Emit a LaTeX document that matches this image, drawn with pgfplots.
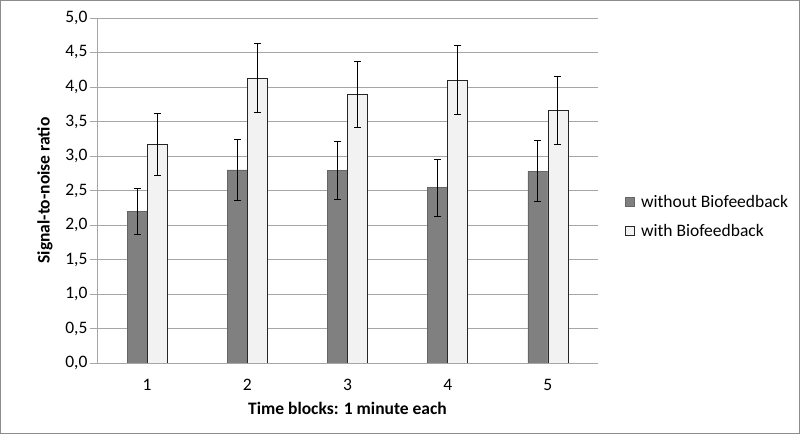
\documentclass[border=0pt]{standalone}
\usepackage{pgfplots}
\pgfplotsset{compat=1.18}
\usepackage{fontspec}
\setmainfont{Carlito}
\definecolor{darkbar}{HTML}{808080}
\definecolor{lightbar}{HTML}{F2F2F2}
\definecolor{gridc}{HTML}{A6A6A6}
\definecolor{framec}{HTML}{8C8C8C}
\begin{document}
\begin{tikzpicture}
\useasboundingbox (0,0) rectangle (800bp,434bp);
\draw[framec, line width=1.2bp] (0.6bp,0.6bp) rectangle (799.4bp,433.4bp);
\begin{axis}[
  at={(97bp,71bp)}, anchor=south west,
  scale only axis, width=501bp, height=345bp,
  xmin=0.5, xmax=5.5, ymin=0, ymax=5,
  xtick={1,2,3,4,5}, xticklabels={1,2,3,4,5}, ytick={0,0.5,...,5},
  major x tick style={draw=none},
  ytick style={gridc, line width=0.8bp},
  tick align=outside, major tick length=7bp,
  axis x line*=bottom, axis y line*=left,
  axis line style={gridc, line width=0.8bp, -},
  ymajorgrids, grid style={gridc, line width=0.8bp},
  font=\fontsize{17.5bp}{20bp}\selectfont,
  ticklabel style={font=\fontsize{17.5bp}{20bp}\selectfont, text=black},
  /pgf/number format/.cd, fixed, fixed zerofill, precision=1, use comma, assume math mode=true,
  /pgfplots/.cd,
  yticklabel style={xshift=1bp},
  xticklabel style={yshift=-6bp},
  ybar=0pt, bar width=20bp,
  every axis y label/.style={at={(rel axis cs:-0.1038,0.5)}, rotate=90, anchor=center, font=\bfseries\fontsize{17.5bp}{20bp}\selectfont},
  every axis x label/.style={at={(rel axis cs:0.5,-0.1304)}, anchor=center, font=\bfseries\fontsize{17.5bp}{20bp}\selectfont},
  ylabel={Signal-to-noise ratio},
  xlabel={Time blocks: 1 minute each},
  legend style={draw=none, fill=none, at={(rel axis cs:1.054,0.4246)}, anchor=west,
    font=\fontsize{17.5bp}{20bp}\selectfont, row sep=11bp, inner sep=0pt,
    /tikz/every odd column/.append style={column sep=4bp}},
  legend cell align=left,
  legend image code/.code={\draw[#1] (0bp,-4.5bp) rectangle (9bp,4.5bp);},
  error bars/error bar style={black, line width=0.9bp},
  error bars/error mark options={rotate=90, mark size=3.5bp, black, line width=0.9bp},
]
\addplot[fill=darkbar, draw=darkbar!80!black, line width=0.5bp,
  error bars/.cd, y dir=both, y explicit]
  coordinates {(1,2.20) +- (0,0.33) (2,2.80) +- (0,0.44) (3,2.79) +- (0,0.42) (4,2.54) +- (0,0.41) (5,2.78) +- (0,0.44)};
\addplot[fill=lightbar, draw=black!85, line width=0.8bp,
  error bars/.cd, y dir=both, y explicit]
  coordinates {(1,3.17) +- (0,0.445) (2,4.13) +- (0,0.50) (3,3.89) +- (0,0.475) (4,4.10) +- (0,0.50) (5,3.66) +- (0,0.49)};
\legend{without Biofeedback, with Biofeedback}
\end{axis}
\end{tikzpicture}
\end{document}
